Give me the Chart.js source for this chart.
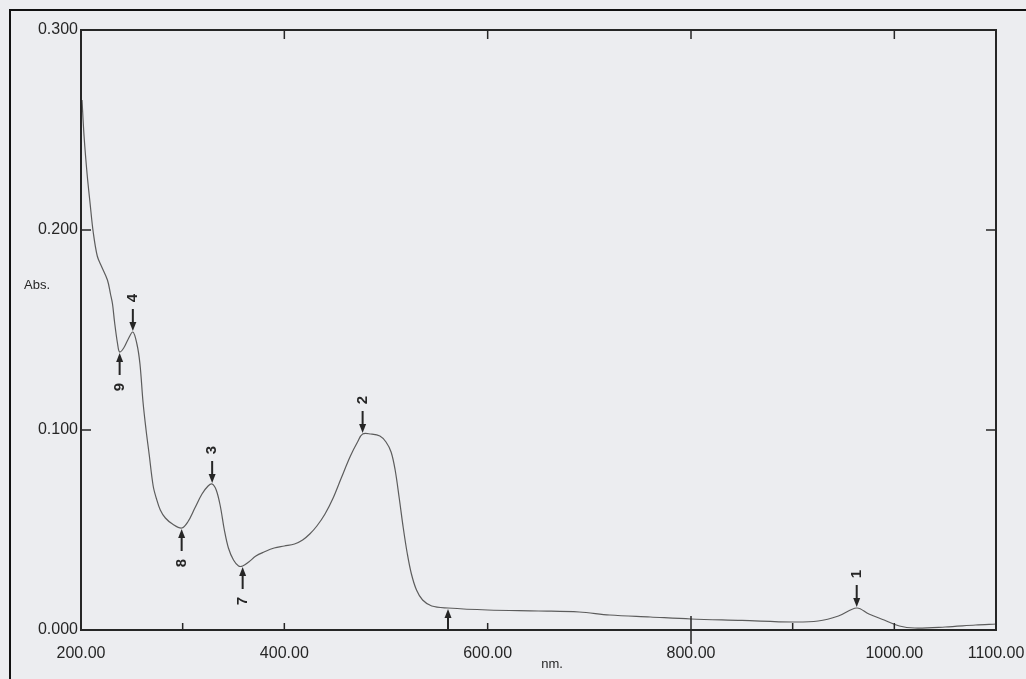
<!DOCTYPE html>
<html>
<head>
<meta charset="utf-8">
<script src="https://cdn.jsdelivr.net/npm/chart.js@4.4.1/dist/chart.umd.min.js"></script>
<style>
  html, body { margin: 0; padding: 0; background: #ecedf0; }
  #wrap { width: 1026px; height: 679px; position: relative; }
</style>
</head>
<body>
<div id="wrap"><canvas id="c"></canvas></div>
<script>
// Absorbance spectrum, wavelength in nm
const wavelength = [
  201, 203, 206, 209, 212, 216, 220, 226, 229, 231, 233, 236, 238, 242, 246, 251,
  255, 258, 261, 264, 267, 271, 274, 278, 283, 290, 299, 305, 312, 319, 325, 329,
  333, 337, 341, 345, 350, 355, 359, 365, 372, 380, 390, 400, 410, 418, 425, 432,
  440, 448, 456, 465, 472, 477, 485, 494, 500, 505, 509, 513, 517, 521, 525, 530,
  536, 545, 561, 600, 650, 690, 720, 760, 800, 850, 900, 925, 945, 963, 975, 990,
  1005, 1020, 1050, 1080, 1100
];
const absorbance = [
  0.265, 0.247, 0.228, 0.213, 0.199, 0.187, 0.182, 0.175, 0.168, 0.163, 0.154, 0.143, 0.139, 0.141, 0.145, 0.149,
  0.143, 0.133, 0.114, 0.100, 0.088, 0.072, 0.066, 0.060, 0.056, 0.053, 0.051, 0.054, 0.061, 0.068, 0.072, 0.073,
  0.070, 0.062, 0.050, 0.041, 0.035, 0.032, 0.032, 0.034, 0.037, 0.039, 0.041, 0.042, 0.043, 0.045, 0.048, 0.052,
  0.058, 0.066, 0.076, 0.087, 0.094, 0.098, 0.098, 0.097, 0.094, 0.089, 0.080, 0.066, 0.051, 0.038, 0.028, 0.020,
  0.015, 0.012, 0.011, 0.010, 0.0095, 0.009, 0.0075, 0.0065, 0.0055, 0.0048, 0.004, 0.0045, 0.007, 0.011, 0.008, 0.005,
  0.002, 0.001, 0.0015, 0.0025, 0.003
];

// Picked peaks (arrow above) and valleys (arrow below)
const peakLabels = ['1', '2', '3', '4'];
const peakNm = [963, 477, 329, 251];
const valleyLabels = ['7', '8', '9'];
const valleyNm = [359, 299, 238];
// Unnumbered cursor mark rising from the baseline
const cursorNm = [561];

const xTickValues = [200, 400, 600, 800, 1000, 1100];
const yTickValues = [0, 0.1, 0.2, 0.3];

const points = wavelength.map((w, i) => ({ x: w, y: absorbance[i] }));
const absAt = nm => absorbance[wavelength.indexOf(nm)];

const INK = '#262626';
const FONT = '"Liberation Sans", Arial, sans-serif';

const paper = {
  id: 'paper',
  beforeDraw(chart) {
    const ctx = chart.ctx;
    ctx.save();
    ctx.fillStyle = '#ecedf0';
    ctx.fillRect(0, 0, chart.width, chart.height);
    // outer page frame
    ctx.strokeStyle = '#111';
    ctx.lineWidth = 2;
    ctx.beginPath();
    ctx.moveTo(10, chart.height);
    ctx.lineTo(10, 10);
    ctx.lineTo(chart.width, 10);
    ctx.stroke();
    ctx.restore();
  }
};

const frame = {
  id: 'frame',
  afterDatasetsDraw(chart) {
    const { ctx, chartArea: a, scales: { x, y } } = chart;
    ctx.save();
    ctx.strokeStyle = INK;
    ctx.lineWidth = 2;
    ctx.strokeRect(a.left, a.top, a.right - a.left, a.bottom - a.top);

    ctx.lineWidth = 1.5;
    ctx.beginPath();
    // top ticks
    [400, 600, 800, 1000].forEach(v => {
      const px = x.getPixelForValue(v);
      ctx.moveTo(px, a.top); ctx.lineTo(px, a.top + 9);
    });
    // bottom ticks
    [300, 400, 600, 900, 1000].forEach(v => {
      const px = x.getPixelForValue(v);
      ctx.moveTo(px, a.bottom); ctx.lineTo(px, a.bottom - 7);
    });
    const p800 = x.getPixelForValue(800);
    ctx.moveTo(p800, a.bottom - 14); ctx.lineTo(p800, a.bottom + 14);
    // side ticks
    [0.1, 0.2].forEach(v => {
      const py = y.getPixelForValue(v);
      ctx.moveTo(a.left, py); ctx.lineTo(a.left + 10, py);
      ctx.moveTo(a.right, py); ctx.lineTo(a.right - 10, py);
    });
    ctx.stroke();

    // axis titles
    ctx.fillStyle = INK;
    ctx.font = '13px ' + FONT;
    ctx.textBaseline = 'middle';
    ctx.textAlign = 'left';
    ctx.fillText('Abs.', 24, 285);
    ctx.textAlign = 'center';
    ctx.fillText('nm.', 552, 664);
    ctx.restore();
  }
};

function arrow(ctx, px, tipY, dir) {
  // dir = 1 : arrow points down to tipY; dir = -1 : points up to tipY
  const tail = tipY - dir * 22;
  ctx.beginPath();
  ctx.moveTo(px, tail);
  ctx.lineTo(px, tipY - dir * 6);
  ctx.stroke();
  ctx.beginPath();
  ctx.moveTo(px, tipY);
  ctx.lineTo(px - 3.5, tipY - dir * 9);
  ctx.lineTo(px + 3.5, tipY - dir * 9);
  ctx.closePath();
  ctx.fill();
}

function rotatedLabel(ctx, text, px, cy) {
  ctx.save();
  ctx.translate(px, cy);
  ctx.rotate(-Math.PI / 2);
  ctx.fillText(text, 0, 0);
  ctx.restore();
}

const markers = {
  id: 'markers',
  afterDatasetsDraw(chart) {
    const { ctx, chartArea: a, scales: { x, y } } = chart;
    ctx.save();
    ctx.strokeStyle = INK;
    ctx.fillStyle = INK;
    ctx.lineWidth = 2;
    ctx.font = 'bold 15px ' + FONT;
    ctx.textAlign = 'center';
    ctx.textBaseline = 'middle';
    peakNm.forEach((nm, i) => {
      const px = x.getPixelForValue(nm);
      const py = y.getPixelForValue(absAt(nm)) - 1;
      arrow(ctx, px, py, 1);
      rotatedLabel(ctx, peakLabels[i], px, py - 33);
    });
    valleyNm.forEach((nm, i) => {
      const px = x.getPixelForValue(nm);
      const py = y.getPixelForValue(absAt(nm)) + 1;
      arrow(ctx, px, py, -1);
      rotatedLabel(ctx, valleyLabels[i], px, py + 34);
    });
    cursorNm.forEach(nm => {
      const px = x.getPixelForValue(nm);
      const py = y.getPixelForValue(absAt(nm)) + 1;
      ctx.beginPath();
      ctx.moveTo(px, a.bottom);
      ctx.lineTo(px, py + 6);
      ctx.stroke();
      ctx.beginPath();
      ctx.moveTo(px, py);
      ctx.lineTo(px - 3.5, py + 9);
      ctx.lineTo(px + 3.5, py + 9);
      ctx.closePath();
      ctx.fill();
    });
    ctx.restore();
  }
};

new Chart(document.getElementById('c'), {
  type: 'line',
  data: {
    datasets: [{
      data: points,
      borderColor: '#5c5c5c',
      borderWidth: 1.2,
      pointRadius: 0,
      tension: 0.35,
      fill: false
    }]
  },
  options: {
    responsive: true,
    maintainAspectRatio: false,
    animation: false,
    parsing: false,
    layout: { padding: { left: 0, top: 30, right: 30, bottom: 0 } },
    plugins: { legend: { display: false }, tooltip: { enabled: false } },
    scales: {
      x: {
        type: 'linear',
        min: 200,
        max: 1100,
        grid: { display: false, drawTicks: false },
        border: { display: false },
        afterBuildTicks: s => { s.ticks = xTickValues.map(v => ({ value: v })); },
        afterFit: s => { s.height = 49; s.paddingLeft = 0; s.paddingRight = 0; },
        ticks: {
          autoSkip: false,
          maxRotation: 0,
          padding: 14,
          color: INK,
          font: { family: FONT, size: 16 },
          callback: v => v.toFixed(2)
        }
      },
      y: {
        type: 'linear',
        min: 0,
        max: 0.3,
        grid: { display: false, drawTicks: false },
        border: { display: false },
        afterBuildTicks: s => { s.ticks = yTickValues.map(v => ({ value: v })); },
        afterFit: s => { s.width = 81; s.paddingTop = 0; s.paddingBottom = 0; },
        ticks: {
          padding: 3,
          color: INK,
          font: { family: FONT, size: 16 },
          callback: v => v.toFixed(3)
        }
      }
    }
  },
  plugins: [paper, frame, markers]
});
</script>
</body>
</html>
